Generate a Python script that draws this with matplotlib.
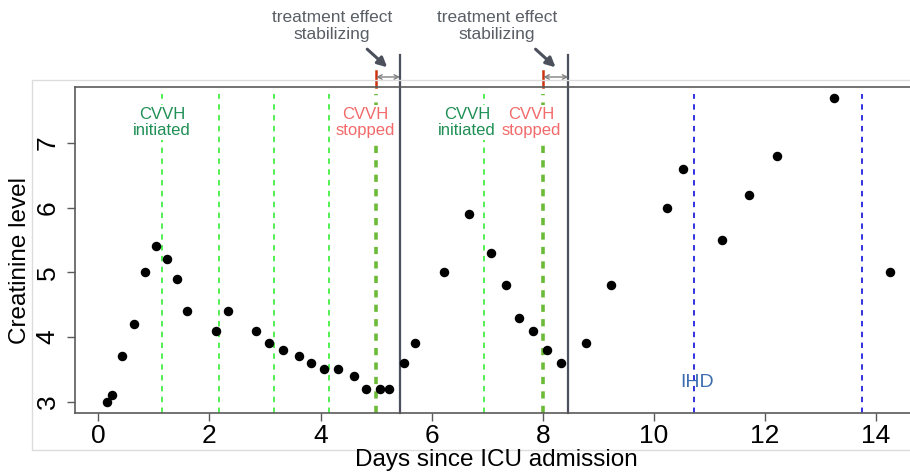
"""
    Creatinine level over days since ICU admission, with CVVH / IHD events
"""

import matplotlib
matplotlib.use('Agg')
import matplotlib.pyplot as plt
from matplotlib.patches import Rectangle

plt.rcParams['font.family'] = ['Liberation Sans', 'DejaVu Sans']

days = [0.15, 0.25, 0.43, 0.64, 0.84, 1.03, 1.24, 1.41, 1.59, 2.11, 2.33,
        2.83, 3.08, 3.32, 3.61, 3.83, 4.07, 4.31, 4.60, 4.82, 5.07, 5.24,
        5.50, 5.70, 6.22, 6.67, 7.07, 7.33, 7.58, 7.83, 8.07, 8.32, 8.78,
        9.22, 10.23, 10.53, 11.23, 11.72, 12.21, 13.24, 14.25]
creatinine = [3.0, 3.1, 3.7, 4.2, 5.0, 5.4, 5.2, 4.9, 4.4, 4.1, 4.4,
              4.1, 3.9, 3.8, 3.7, 3.6, 3.5, 3.5, 3.4, 3.2, 3.2, 3.2,
              3.6, 3.9, 5.0, 5.9, 5.3, 4.8, 4.3, 4.1, 3.8, 3.6, 3.9,
              4.8, 6.0, 6.6, 5.5, 6.2, 6.8, 7.7, 5.0]

cvvh_days = [1.15, 2.17, 3.16, 4.16, 6.95]   # CVVH sessions
stop_days = [5.0, 8.01]                      # CVVH stopped
effect_days = [5.43, 8.46]                   # treatment effect stabilized
ihd_days = [10.72, 13.74]                    # IHD sessions

x_ticks = [0, 2, 4, 6, 8, 10, 12, 14]
y_ticks = [3, 4, 5, 6, 7]

fig = plt.figure(figsize=(9.1, 4.72), dpi=100)

# light outer frame
fig.patches.append(Rectangle((32 / 910, 22 / 472), 1.0, 370 / 472,
                             transform=fig.transFigure, fill=False,
                             edgecolor='#dcdcdc', linewidth=1.0))

ax = fig.add_axes([75 / 910, 59 / 472, 1 - 75 / 910, 326.3 / 472])
ax.set_xlim(-0.42, 14.61)
ax.set_ylim(2.825, 7.87)

top = 7.75
ax.vlines(cvvh_days, 2.825, top, colors='#44ee44', linestyles=(0, (3, 3)), linewidth=1.3)
ax.vlines(stop_days, 2.825, top, colors='#6cbb38', linestyles=(0, (2, 2)), linewidth=2.6)
ax.vlines(ihd_days, 2.825, top, colors='#2222dd', linestyles=(0, (3, 3)), linewidth=1.3)

for d in effect_days:
    ax.plot([d, d], [2.825, 8.36], color='#4b505c', linewidth=1.6, clip_on=False)

ax.scatter(days, creatinine, s=34, color='black', zorder=5)

box = dict(facecolor='white', edgecolor='none', pad=1.5)
for xpos in [1.15, 6.64]:
    ax.text(xpos, 7.32, 'CVVH\ninitiated', color='#1f8f55', fontsize=12,
            ha='center', va='center', linespacing=1.1, bbox=box, zorder=4)
for xpos in [4.80, 7.79]:
    ax.text(xpos, 7.32, 'CVVH\nstopped', color='#f26a6a', fontsize=12,
            ha='center', va='center', linespacing=1.1, bbox=box, zorder=4)
ax.text(10.78, 3.29, 'IHD', color='#3d6eb0', fontsize=14, ha='center', va='center')

# treatment effect markers above the panel
for s, e, tx in zip(stop_days, effect_days, [4.20, 7.17]):
    ax.plot([s, s], [7.87, 8.11], color='#cc3311', linewidth=1.8, clip_on=False)
    ax.annotate('', xy=(e, 8.02), xytext=(s, 8.02), annotation_clip=False,
                arrowprops=dict(arrowstyle='<->', color='#808080', lw=1.0,
                                shrinkA=0, shrinkB=0, mutation_scale=8))
    ax.annotate('', xy=(e - 0.23, 8.17), xytext=(e - 0.59, 8.45), annotation_clip=False,
                arrowprops=dict(arrowstyle='-|>', color='#4b505c', lw=2.2,
                                shrinkA=0, shrinkB=0, mutation_scale=14))
    ax.text(tx, 8.81, 'treatment effect\nstabilizing', color='#5a5f66', fontsize=12.5,
            ha='center', va='center', linespacing=1.15, clip_on=False)

for side in ['left', 'bottom', 'top']:
    ax.spines[side].set_color('#5a5a5a')
    ax.spines[side].set_linewidth(1.2)
ax.spines['right'].set_visible(False)

ax.set_xticks(x_ticks)
ax.set_xticklabels([str(v) for v in x_ticks], fontsize=19)
ax.set_yticks(y_ticks)
ax.set_yticklabels([str(v) for v in y_ticks], fontsize=19, rotation=90, va='center')
ax.tick_params(axis='both', direction='out', length=6, width=1.0, color='#5a5a5a')
ax.tick_params(axis='x', pad=2)
ax.tick_params(axis='y', pad=5)

fig.text(496 / 910, 1 - 460 / 472, 'Days since ICU admission', fontsize=17.5,
         ha='center', va='center')
fig.text(20 / 910, 1 - 260 / 472, 'Creatinine level', fontsize=17.5,
         ha='center', va='center', rotation=90)

fig.savefig('out.png', dpi=100)
